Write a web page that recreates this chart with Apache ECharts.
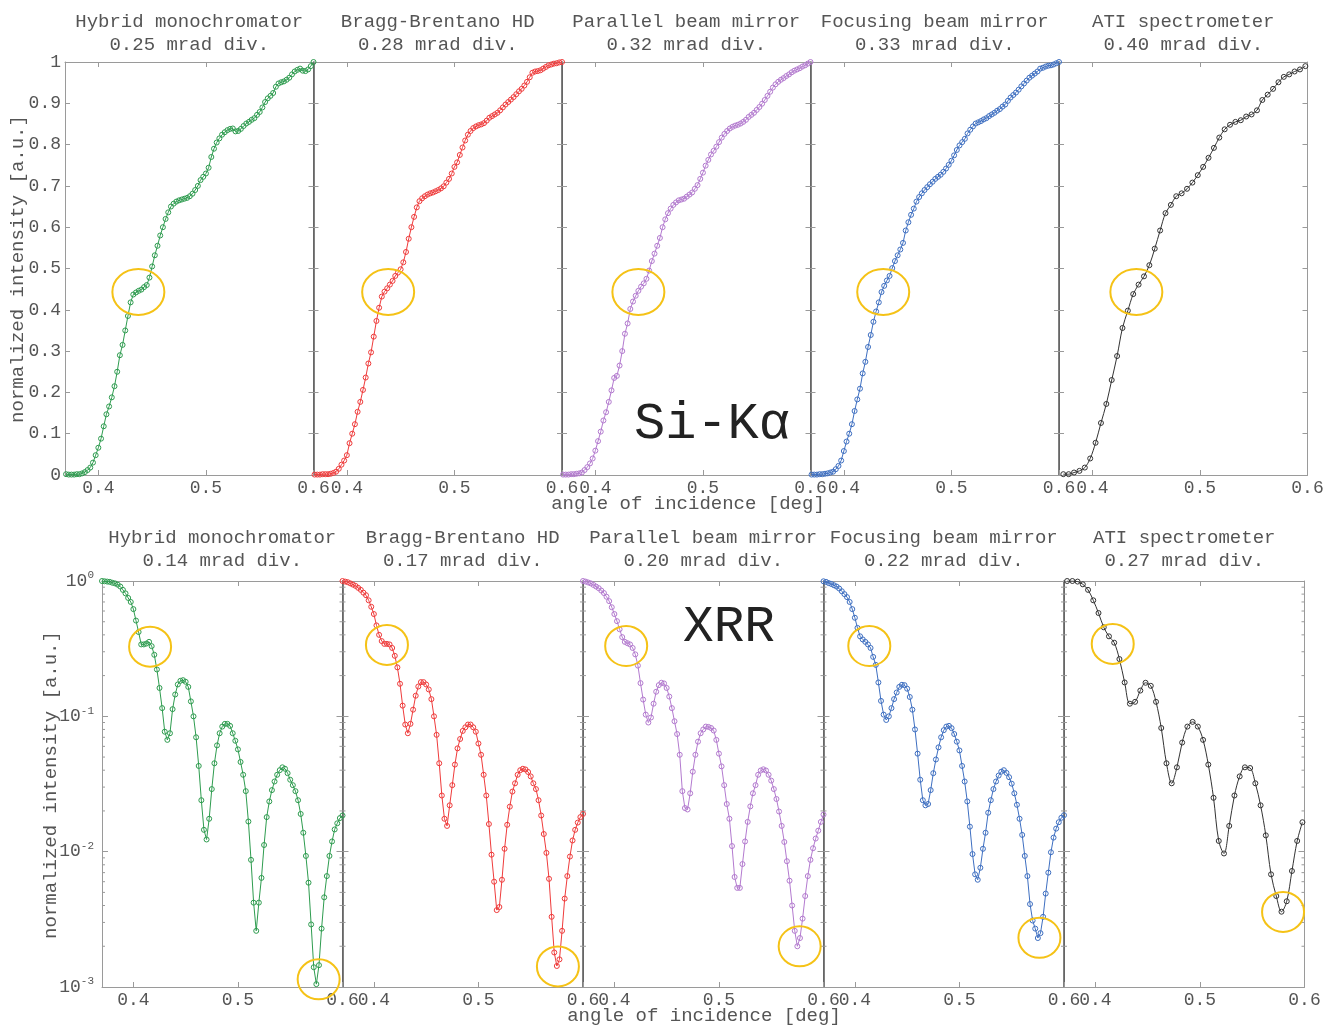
<!DOCTYPE html>
<html>
<head>
<meta charset="utf-8">
<script src="https://cdn.jsdelivr.net/npm/echarts@6/dist/echarts.min.js"></script>
<style>
  html, body { margin: 0; padding: 0; background: #fff; }
  #chart { width: 1323px; height: 1026px; }
</style>
</head>
<body>
<div id="chart"></div>
<script>
// angle of incidence [deg], dense sampling (first four instruments)
const xDense = [
  0.370, 0.3725, 0.375, 0.3775, 0.380, 0.3825, 0.385, 0.3875, 0.390, 0.3925,
  0.395, 0.3975, 0.400, 0.4025, 0.405, 0.4075, 0.410, 0.4125, 0.415, 0.4175,
  0.420, 0.4225, 0.425, 0.4275, 0.430, 0.4325, 0.435, 0.4375, 0.440, 0.4425,
  0.445, 0.4475, 0.450, 0.4525, 0.455, 0.4575, 0.460, 0.4625, 0.465, 0.4675,
  0.470, 0.4725, 0.475, 0.4775, 0.480, 0.4825, 0.485, 0.4875, 0.490, 0.4925,
  0.495, 0.4975, 0.500, 0.5025, 0.505, 0.5075, 0.510, 0.5125, 0.515, 0.5175,
  0.520, 0.5225, 0.525, 0.5275, 0.530, 0.5325, 0.535, 0.5375, 0.540, 0.5425,
  0.545, 0.5475, 0.550, 0.5525, 0.555, 0.5575, 0.560, 0.5625, 0.565, 0.5675,
  0.570, 0.5725, 0.575, 0.5775, 0.580, 0.5825, 0.585, 0.5875, 0.590, 0.5925,
  0.595, 0.5975, 0.600
];
// ATI spectrometer sampling
const xAti = [
  0.373, 0.378, 0.383, 0.388, 0.393, 0.398, 0.403, 0.408, 0.413, 0.418,
  0.423, 0.428, 0.433, 0.438, 0.443, 0.448, 0.453, 0.458, 0.463, 0.468,
  0.473, 0.478, 0.483, 0.488, 0.493, 0.498, 0.503, 0.508, 0.513, 0.518,
  0.523, 0.528, 0.533, 0.538, 0.543, 0.548, 0.553, 0.558, 0.563, 0.568,
  0.573, 0.578, 0.583, 0.588, 0.593, 0.598
];

// Si-Kα (linear)
const siHybrid = [
  0.002, 0.001, 0.001, 0.001, 0.002, 0.002, 0.004, 0.007, 0.012, 0.018,
  0.030, 0.048, 0.066, 0.088, 0.118, 0.147, 0.166, 0.188, 0.215, 0.250,
  0.290, 0.315, 0.350, 0.385, 0.418, 0.437, 0.442, 0.446, 0.449, 0.455,
  0.460, 0.478, 0.505, 0.532, 0.555, 0.580, 0.600, 0.620, 0.636, 0.650,
  0.657, 0.662, 0.665, 0.667, 0.669, 0.671, 0.675, 0.681, 0.690, 0.700,
  0.714, 0.722, 0.730, 0.744, 0.770, 0.790, 0.805, 0.815, 0.824, 0.830,
  0.835, 0.838, 0.839, 0.832, 0.833, 0.838, 0.845, 0.851, 0.855, 0.860,
  0.864, 0.872, 0.879, 0.890, 0.903, 0.912, 0.918, 0.925, 0.940, 0.948,
  0.951, 0.953, 0.957, 0.962, 0.970, 0.977, 0.981, 0.984, 0.979, 0.978,
  0.982, 0.990, 1.000
];
const siBragg = [
  0.001, 0.001, 0.001, 0.002, 0.002, 0.002, 0.003, 0.005, 0.008, 0.015,
  0.025, 0.035, 0.048, 0.077, 0.100, 0.123, 0.153, 0.177, 0.206, 0.236,
  0.270, 0.297, 0.335, 0.373, 0.405, 0.432, 0.444, 0.452, 0.461, 0.470,
  0.482, 0.490, 0.498, 0.515, 0.540, 0.572, 0.600, 0.625, 0.648, 0.663,
  0.670, 0.675, 0.679, 0.682, 0.684, 0.687, 0.690, 0.694, 0.699, 0.708,
  0.717, 0.730, 0.746, 0.757, 0.775, 0.793, 0.810, 0.824, 0.833, 0.840,
  0.844, 0.847, 0.849, 0.852, 0.858, 0.865, 0.869, 0.873, 0.877, 0.883,
  0.890, 0.897, 0.903, 0.909, 0.915, 0.922, 0.929, 0.935, 0.943, 0.952,
  0.963, 0.974, 0.977, 0.978, 0.980, 0.984, 0.988, 0.992, 0.994, 0.996,
  0.997, 0.999, 1.000
];
const siParallel = [
  0.001, 0.001, 0.001, 0.002, 0.002, 0.003, 0.004, 0.006, 0.012, 0.019,
  0.028, 0.040, 0.059, 0.082, 0.105, 0.132, 0.152, 0.177, 0.205, 0.235,
  0.240, 0.265, 0.300, 0.342, 0.367, 0.402, 0.420, 0.434, 0.446, 0.456,
  0.464, 0.475, 0.495, 0.518, 0.536, 0.555, 0.574, 0.600, 0.619, 0.634,
  0.645, 0.654, 0.660, 0.665, 0.667, 0.669, 0.674, 0.679, 0.684, 0.693,
  0.702, 0.717, 0.732, 0.749, 0.763, 0.776, 0.785, 0.795, 0.806, 0.817,
  0.826, 0.833, 0.839, 0.843, 0.846, 0.848, 0.851, 0.855, 0.860, 0.867,
  0.872, 0.877, 0.884, 0.891, 0.899, 0.908, 0.918, 0.928, 0.938, 0.946,
  0.952, 0.957, 0.961, 0.966, 0.970, 0.975, 0.979, 0.982, 0.985, 0.989,
  0.992, 0.996, 1.000
];
const siFocusing = [
  0.001, 0.001, 0.001, 0.002, 0.002, 0.003, 0.004, 0.006, 0.008, 0.014,
  0.022, 0.035, 0.058, 0.081, 0.100, 0.123, 0.155, 0.183, 0.209, 0.246,
  0.274, 0.310, 0.339, 0.371, 0.396, 0.418, 0.443, 0.458, 0.471, 0.482,
  0.501, 0.518, 0.532, 0.546, 0.562, 0.592, 0.612, 0.630, 0.645, 0.662,
  0.673, 0.682, 0.690, 0.697, 0.704, 0.710, 0.717, 0.722, 0.727, 0.734,
  0.742, 0.751, 0.761, 0.774, 0.787, 0.798, 0.806, 0.814, 0.827, 0.836,
  0.844, 0.851, 0.854, 0.857, 0.861, 0.864, 0.869, 0.873, 0.877, 0.882,
  0.886, 0.892, 0.897, 0.906, 0.914, 0.920, 0.926, 0.933, 0.941, 0.948,
  0.955, 0.962, 0.967, 0.972, 0.977, 0.984, 0.986, 0.989, 0.991, 0.992,
  0.994, 0.997, 1.000
];
const siAti = [
  0.002, 0.002, 0.006, 0.010, 0.018, 0.040, 0.078, 0.126, 0.172, 0.230,
  0.288, 0.356, 0.398, 0.438, 0.461, 0.481, 0.508, 0.548, 0.592, 0.634,
  0.654, 0.675, 0.682, 0.693, 0.708, 0.726, 0.746, 0.768, 0.792, 0.817,
  0.837, 0.848, 0.855, 0.859, 0.868, 0.873, 0.883, 0.908, 0.921, 0.935,
  0.951, 0.964, 0.970, 0.977, 0.982, 0.990
];

// XRR (log)
const xrrHybrid = [
  1.0, 0.995, 0.99, 0.985, 0.97, 0.96, 0.94, 0.91, 0.86, 0.81,
  0.75, 0.70, 0.62, 0.51, 0.42, 0.34, 0.34, 0.345, 0.355, 0.33,
  0.285, 0.222, 0.162, 0.115, 0.077, 0.067, 0.075, 0.113, 0.145, 0.172,
  0.183, 0.185, 0.18, 0.165, 0.129, 0.10, 0.07, 0.043, 0.024, 0.0145,
  0.0123, 0.0175, 0.029, 0.045, 0.061, 0.075, 0.084, 0.088, 0.088, 0.085,
  0.075, 0.066, 0.057, 0.046, 0.037, 0.028, 0.0167, 0.0087, 0.0042, 0.0026,
  0.0042, 0.0064, 0.0112, 0.018, 0.0235, 0.0285, 0.033, 0.037, 0.040, 0.042,
  0.041, 0.038, 0.034, 0.031, 0.028, 0.024, 0.019, 0.0138, 0.0093, 0.0059,
  0.0029, 0.0014, 0.00105, 0.00145, 0.0027, 0.0046, 0.0066, 0.0093, 0.0119, 0.0146,
  0.0162, 0.0177, 0.0185
];
const xrrBragg = [
  1.0, 0.99, 0.98, 0.96, 0.94, 0.92, 0.89, 0.86, 0.82, 0.785,
  0.72, 0.645, 0.57, 0.47, 0.40, 0.36, 0.343, 0.343, 0.34, 0.32,
  0.28, 0.23, 0.174, 0.12, 0.087, 0.075, 0.088, 0.112, 0.142, 0.166,
  0.179, 0.179, 0.172, 0.158, 0.134, 0.10, 0.073, 0.045, 0.026, 0.0175,
  0.0155, 0.022, 0.031, 0.044, 0.058, 0.068, 0.078, 0.083, 0.087, 0.087,
  0.083, 0.077, 0.063, 0.052, 0.037, 0.026, 0.016, 0.0095, 0.006, 0.0037,
  0.0039, 0.0062, 0.0105, 0.0158, 0.0215, 0.0278, 0.032, 0.037, 0.040, 0.041,
  0.0405, 0.0388, 0.036, 0.032, 0.029, 0.024, 0.0185, 0.0135, 0.0098, 0.0063,
  0.0033, 0.0018, 0.00143, 0.0016, 0.0026, 0.0045, 0.0066, 0.0092, 0.0121, 0.0145,
  0.0164, 0.018, 0.019
];
const xrrParallel = [
  1.0, 0.99, 0.975, 0.96, 0.935, 0.91, 0.885, 0.85, 0.815, 0.765,
  0.71, 0.64, 0.57, 0.505, 0.44, 0.385, 0.355, 0.347, 0.34, 0.32,
  0.287, 0.237, 0.176, 0.133, 0.103, 0.09, 0.098, 0.124, 0.152, 0.17,
  0.177, 0.175, 0.162, 0.14, 0.115, 0.092, 0.074, 0.052, 0.028, 0.021,
  0.0205, 0.027, 0.039, 0.052, 0.065, 0.075, 0.08, 0.084, 0.0835, 0.082,
  0.0786, 0.067, 0.053, 0.0427, 0.031, 0.0225, 0.0175, 0.011, 0.0065, 0.0054,
  0.0054, 0.0081, 0.0119, 0.0166, 0.0216, 0.027, 0.031, 0.037, 0.0398, 0.0406,
  0.0398, 0.037, 0.0335, 0.029, 0.0245, 0.0198, 0.0155, 0.0118, 0.0085, 0.0061,
  0.004, 0.0026, 0.002, 0.0023, 0.0032, 0.0047, 0.0066, 0.0087, 0.0106, 0.0125,
  0.0143, 0.0166, 0.0188
];
const xrrFocusing = [
  0.995, 0.985, 0.965, 0.95, 0.93, 0.91, 0.88, 0.84, 0.80, 0.76,
  0.70, 0.62, 0.535, 0.45, 0.39, 0.37, 0.355, 0.34, 0.32, 0.275,
  0.24, 0.178, 0.13, 0.103, 0.094, 0.10, 0.115, 0.134, 0.15, 0.165,
  0.171, 0.17, 0.16, 0.139, 0.112, 0.08, 0.053, 0.034, 0.024, 0.022,
  0.0225, 0.0285, 0.038, 0.048, 0.059, 0.07, 0.079, 0.084, 0.085, 0.0818,
  0.074, 0.065, 0.056, 0.043, 0.033, 0.0235, 0.0153, 0.0096, 0.0068, 0.0062,
  0.0076, 0.0105, 0.0138, 0.0194, 0.024, 0.029, 0.033, 0.0365, 0.039, 0.040,
  0.0382, 0.0355, 0.0318, 0.027, 0.0222, 0.0175, 0.0133, 0.0093, 0.0066, 0.0041,
  0.0031, 0.0027, 0.0023, 0.0025, 0.0033, 0.0049, 0.007, 0.0099, 0.0127, 0.0148,
  0.0165, 0.0178, 0.0186
];
const xrrAti = [
  1.0, 1.0, 0.99, 0.945, 0.86, 0.72, 0.58, 0.455, 0.39, 0.35,
  0.265, 0.178, 0.124, 0.128, 0.155, 0.177, 0.168, 0.128, 0.082, 0.045,
  0.032, 0.042, 0.064, 0.084, 0.091, 0.084, 0.067, 0.044, 0.025, 0.012,
  0.0097, 0.0155, 0.026, 0.036, 0.042, 0.0415, 0.032, 0.022, 0.0132, 0.0068,
  0.0047, 0.0036, 0.0043, 0.0072, 0.012, 0.0165
];

// yellow highlight circles [angle, intensity]
const siMarks = [[0.4372, 0.443], [0.4384, 0.443], [0.440, 0.443], [0.4366, 0.443], [0.4409, 0.443]];
const xrrMarksUpper = [[0.416, 0.327], [0.4125, 0.337], [0.4113, 0.331], [0.4138, 0.331], [0.4166, 0.343]];
const xrrMarksLower = [[0.5772, 0.00114], [0.576, 0.00142], [0.5772, 0.0020], [0.5765, 0.00231], [0.5795, 0.00359]];

const instruments = ['Hybrid monochromator', 'Bragg-Brentano HD', 'Parallel beam mirror', 'Focusing beam mirror', 'ATI spectrometer'];
const siDiv = ['0.25', '0.28', '0.32', '0.33', '0.40'];
const xrrDiv = ['0.14', '0.17', '0.20', '0.22', '0.27'];
const xTicks = [0.4, 0.5, 0.6];
const logMinorTicks = [
  0.002, 0.003, 0.004, 0.005, 0.006, 0.007, 0.008, 0.009,
  0.02, 0.03, 0.04, 0.05, 0.06, 0.07, 0.08, 0.09,
  0.2, 0.3, 0.4, 0.5, 0.6, 0.7, 0.8, 0.9
];

const colors = ['#2e9c4f', '#ef3b3b', '#b37acf', '#3e6fc1', '#333333'];
const FONT = '"Liberation Mono", "DejaVu Sans Mono", monospace';
const TXT = '#555';
const AXIS = '#9a9a9a';
const MARK = '#f5c216';

const siX = [xDense, xDense, xDense, xDense, xAti];
const siY = [siHybrid, siBragg, siParallel, siFocusing, siAti];
const xrrY = [xrrHybrid, xrrBragg, xrrParallel, xrrFocusing, xrrAti];

// layout
const siLeft = [65, 313.5, 562, 810.5, 1059], siW = 248.5, siTop = 62, siH = 413;
const xrrLeft = [102, 342.5, 583, 823.5, 1064], xrrW = 240.5, xrrTop = 581, xrrH = 406;

const grid = [], xAxis = [], yAxis = [], series = [], graphic = [];

function ellipseSeries(k, pt, rx, ry) {
  return {
    type: 'custom', xAxisIndex: 2 * k, yAxisIndex: 2 * k, silent: true, z: 5,
    clip: false,
    data: [pt],
    renderItem: (params, api) => {
      const c = api.coord([api.value(0), api.value(1)]);
      return {
        type: 'ellipse',
        shape: { cx: c[0], cy: c[1], rx: rx, ry: ry },
        style: { fill: 'none', stroke: MARK, lineWidth: 2 }
      };
    }
  };
}

function addPanel(row, i) {
  const k = row * 5 + i;
  const isSi = row === 0;
  const left = isSi ? siLeft[i] : xrrLeft[i];
  const w = isSi ? siW : xrrW;
  grid.push({ left: left, top: isSi ? siTop : xrrTop, width: w, height: isSi ? siH : xrrH,
    containLabel: false, outerBoundsMode: 'none' });

  const xmin = isSi ? 0.369 : 0.37;
  const xBase = {
    gridIndex: k, type: 'value', min: xmin, max: 0.6, splitLine: { show: false },
    axisLine: { show: true, onZero: false, lineStyle: { color: AXIS, width: 1 } }
  };
  xAxis.push(Object.assign({}, xBase, {
    position: 'bottom',
    axisTick: { show: true, inside: true, length: 5, customValues: xTicks, lineStyle: { color: AXIS } },
    axisLabel: { show: true, customValues: xTicks, formatter: v => v.toFixed(1), color: TXT,
      fontFamily: FONT, fontSize: 18, margin: 4 }
  }));
  xAxis.push(Object.assign({}, xBase, {
    position: 'top',
    axisTick: { show: true, inside: true, length: 5, customValues: [0.4, 0.5], lineStyle: { color: AXIS } },
    axisLabel: { show: false }
  }));

  const leftLine = i === 0 ? { color: AXIS, width: 1 } : { color: '#555', width: 1.5 };
  let yBase;
  if (isSi) {
    yBase = { gridIndex: k, type: 'value', min: 0, max: 1, interval: 0.1, splitLine: { show: false } };
  } else {
    yBase = { gridIndex: k, type: 'log', logBase: 10, min: 0.001, max: 1, splitLine: { show: false } };
  }
  yAxis.push(Object.assign({}, yBase, {
    position: 'left',
    axisLine: { show: true, onZero: false, lineStyle: leftLine },
    axisTick: { show: true, inside: true, length: isSi ? 5 : 6, lineStyle: { color: AXIS } },
    axisLabel: isSi ? {
      show: i === 0, color: TXT, fontFamily: FONT, fontSize: 18, margin: 4
    } : {
      show: i === 0, color: TXT, fontFamily: FONT, margin: 8,
      formatter: v => '{b|10}{s|' + Math.round(Math.log10(v)) + '}',
      rich: {
        b: { fontFamily: FONT, fontSize: 18, color: TXT, lineHeight: 22 },
        s: { fontFamily: FONT, fontSize: 11, color: TXT, verticalAlign: 'top', lineHeight: 12 }
      }
    }
  }));
  yAxis.push(Object.assign({}, yBase, {
    position: 'right',
    axisLine: { show: true, onZero: false, lineStyle: { color: AXIS, width: 1 } },
    axisTick: { show: true, inside: true, length: isSi ? 5 : 6, lineStyle: { color: AXIS } },
    axisLabel: { show: false }
  }));

  const xs = isSi ? siX[i] : (i === 4 ? xAti : xDense);
  const ys = isSi ? siY[i] : xrrY[i];
  series.push({
    type: 'line', xAxisIndex: 2 * k, yAxisIndex: 2 * k,
    data: xs.map((x, j) => [x, ys[j]]),
    symbol: 'circle', symbolSize: 5,
    smooth: i === 4 ? 0.35 : false,
    color: colors[i],
    lineStyle: { color: colors[i], width: 1 },
    itemStyle: { color: 'rgba(255,255,255,0)', borderColor: colors[i], borderWidth: 1 },
    z: 3
  });

  if (isSi) {
    series.push(ellipseSeries(k, siMarks[i], 26, 23));
  } else {
    series.push(ellipseSeries(k, xrrMarksUpper[i], 21, 20));
    series.push(ellipseSeries(k, xrrMarksLower[i], 21, 20));
    // log minor ticks at 2..9 of each decade, both sides
    series.push({
      type: 'custom', xAxisIndex: 2 * k, yAxisIndex: 2 * k, silent: true, z: 2,
      data: logMinorTicks.map(v => [0.5, v]),
      renderItem: (params, api) => {
        const y = api.coord([0.5, api.value(1)])[1];
        const cs = params.coordSys;
        return {
          type: 'group',
          children: [
            { type: 'line', shape: { x1: cs.x, y1: y, x2: cs.x + 3, y2: y }, style: { stroke: AXIS, lineWidth: 1 } },
            { type: 'line', shape: { x1: cs.x + cs.width - 3, y1: y, x2: cs.x + cs.width, y2: y }, style: { stroke: AXIS, lineWidth: 1 } }
          ]
        };
      }
    });
  }

  graphic.push({
    type: 'text', x: left + w / 2, y: isSi ? 33.5 : 549.5,
    style: {
      text: instruments[i] + '\n' + (isSi ? siDiv[i] : xrrDiv[i]) + ' mrad div.',
      font: '19px ' + FONT, fill: TXT, textAlign: 'center', textVerticalAlign: 'middle', lineHeight: 23
    }
  });
}

for (let r = 0; r < 2; r++) {
  for (let i = 0; i < 5; i++) addPanel(r, i);
}

function label(text, x, y, opts) {
  return Object.assign({
    type: 'text', x: x, y: y,
    style: { text: text, font: '19px ' + FONT, fill: TXT, textAlign: 'center', textVerticalAlign: 'middle' }
  }, opts || {});
}
graphic.push(label('normalized intensity [a.u.]', 17.5, 269, { rotation: Math.PI / 2 }));
graphic.push(label('normalized intensity [a.u.]', 51, 785, { rotation: Math.PI / 2 }));
graphic.push(label('angle of incidence [deg]', 688, 504));
graphic.push(label('angle of incidence [deg]', 704, 1016));
graphic.push({
  type: 'text', x: 712, y: 424,
  style: { text: 'Si-Kα', font: '52px ' + FONT, fill: '#222', textAlign: 'center', textVerticalAlign: 'middle' }
});
graphic.push({
  type: 'text', x: 729, y: 627,
  style: { text: 'XRR', font: '51px ' + FONT, fill: '#222', textAlign: 'center', textVerticalAlign: 'middle' }
});

const chart = echarts.init(document.getElementById('chart'), null, { renderer: 'canvas' });
chart.setOption({
  animation: false,
  backgroundColor: '#fff',
  grid: grid,
  xAxis: xAxis,
  yAxis: yAxis,
  series: series,
  graphic: graphic
});
</script>
</body>
</html>
